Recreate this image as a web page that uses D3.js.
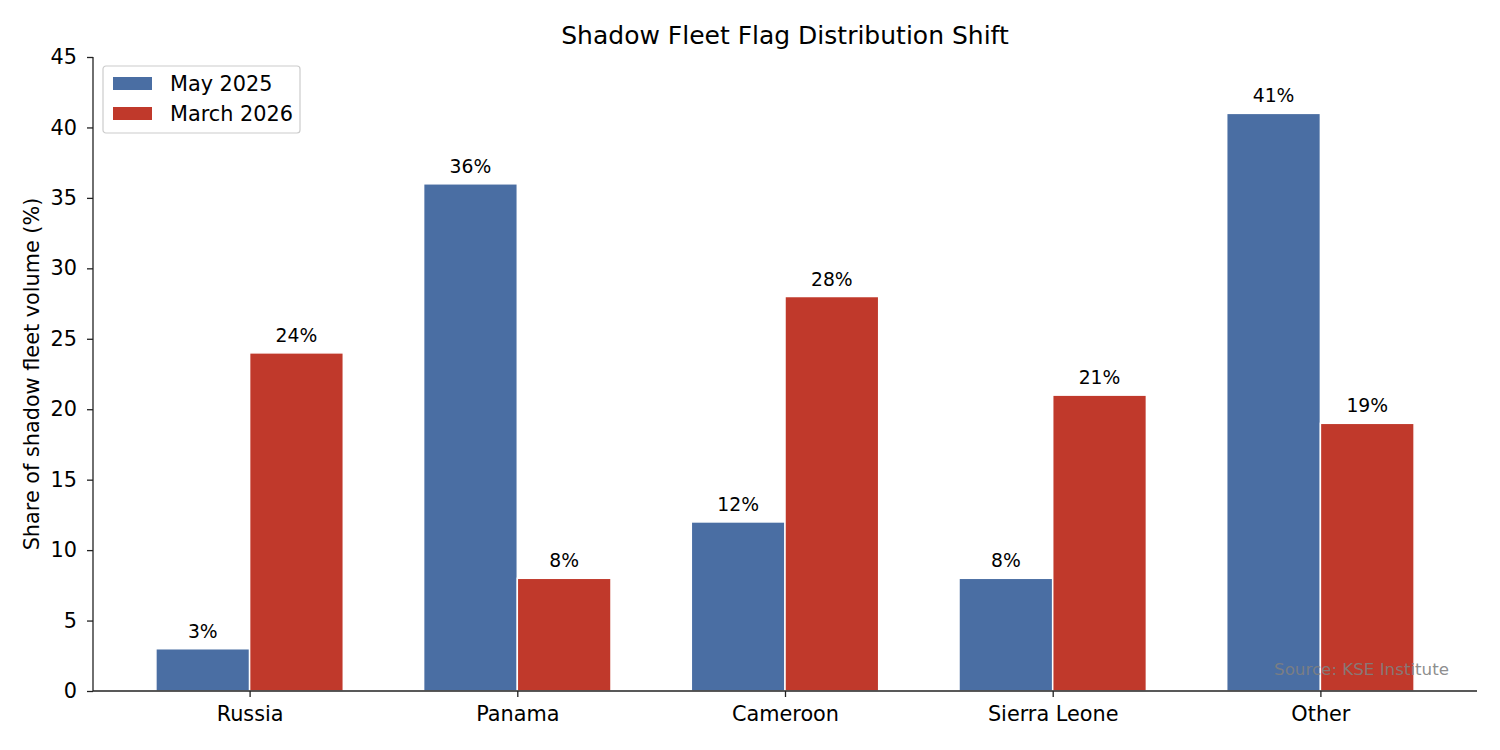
<!DOCTYPE html>
<html>
<head>
<meta charset="utf-8">
<script src="https://cdn.jsdelivr.net/npm/d3@7"></script>
<style>
  body { margin: 0; background: #fff; }
  svg { font-family: "DejaVu Sans", sans-serif; }
</style>
</head>
<body>
<svg id="chart" width="1500" height="750"></svg>
<script>
var categories = ["Russia", "Panama", "Cameroon", "Sierra Leone", "Other"];
var may2025 = [3, 36, 12, 8, 41];
var march2026 = [24, 8, 28, 21, 19];
var seriesNames = ["May 2025", "March 2026"];
var seriesColors = ["#4a6ea3", "#c0392b"];
var yTicks = [0, 5, 10, 15, 20, 25, 30, 35, 40, 45];

(function () {
  var svg = d3.select("#chart");
  var plotLeft = 93, plotRight = 1477, plotTop = 57, plotBottom = 691;
  var barW = 0.35;

  var x = d3.scaleLinear().domain([-0.585, 4.585]).range([plotLeft, plotRight]);
  var y = d3.scaleLinear().domain([0, 45]).range([plotBottom, plotTop]);

  var series = [may2025, march2026];

  series.forEach(function (vals, s) {
    var off = s === 0 ? -barW / 2 : barW / 2;
    var g = svg.append("g");
    g.selectAll("rect").data(vals).enter().append("rect")
      .attr("x", function (d, i) { return x(i + off - barW / 2); })
      .attr("width", x(barW) - x(0))
      .attr("y", function (d) { return y(d); })
      .attr("height", function (d) { return y(0) - y(d); })
      .attr("fill", seriesColors[s])
      .attr("stroke", "#fff")
      .attr("stroke-width", 1.5);
    g.selectAll("text").data(vals).enter().append("text")
      .attr("x", function (d, i) { return x(i + off); })
      .attr("y", function (d) { return y(d) - 11; })
      .attr("text-anchor", "middle")
      .attr("font-size", 18.75)
      .attr("fill", "#000")
      .text(function (d) { return d + "%"; });
  });

  // axes
  var yAxis = svg.append("g")
    .attr("transform", "translate(" + plotLeft + ",0)")
    .call(d3.axisLeft(y).tickValues(yTicks).tickSize(6).tickPadding(10));
  var xAxis = svg.append("g")
    .attr("transform", "translate(0," + plotBottom + ")")
    .call(d3.axisBottom(x).tickValues(d3.range(categories.length))
      .tickFormat(function (i) { return categories[i]; }).tickSize(6).tickPadding(9));
  yAxis.select(".domain").attr("d", "M0," + plotTop + "V" + plotBottom);
  xAxis.select(".domain").attr("d", "M" + plotLeft + ",0H" + plotRight);
  [yAxis, xAxis].forEach(function (a) {
    a.attr("font-size", null).attr("font-family", null);
    a.selectAll("text").attr("font-size", 20.8).attr("fill", "#000");
    a.selectAll("line").attr("stroke", "#222").attr("stroke-width", 1.3);
    a.select(".domain").attr("stroke", "#222").attr("stroke-width", 1.3);
  });

  // title & labels
  svg.append("text").attr("x", (plotLeft + plotRight) / 2).attr("y", 44)
    .attr("text-anchor", "middle").attr("font-size", 25).text("Shadow Fleet Flag Distribution Shift");
  svg.append("text").attr("transform", "translate(39," + (plotTop + plotBottom) / 2 + ") rotate(-90)")
    .attr("text-anchor", "middle").attr("font-size", 20.8).text("Share of shadow fleet volume (%)");

  // source
  svg.append("text").attr("x", 1449).attr("y", 675).attr("text-anchor", "end")
    .attr("font-size", 16.7).attr("fill", "#808080").attr("fill-opacity", 0.9).text("Source: KSE Institute");

  // legend
  var lg = svg.append("g").attr("transform", "translate(103,66)");
  lg.append("rect").attr("width", 197).attr("height", 67).attr("rx", 3)
    .attr("fill", "#fff").attr("fill-opacity", 0.8).attr("stroke", "#ccc").attr("stroke-width", 1.2);
  seriesNames.forEach(function (n, i) {
    lg.append("rect").attr("x", 10).attr("y", 11 + i * 30).attr("width", 39).attr("height", 13)
      .attr("fill", seriesColors[i]);
    lg.append("text").attr("x", 67).attr("y", 25 + i * 30).attr("font-size", 20.8).text(n);
  });
})();
</script>
</body>
</html>
